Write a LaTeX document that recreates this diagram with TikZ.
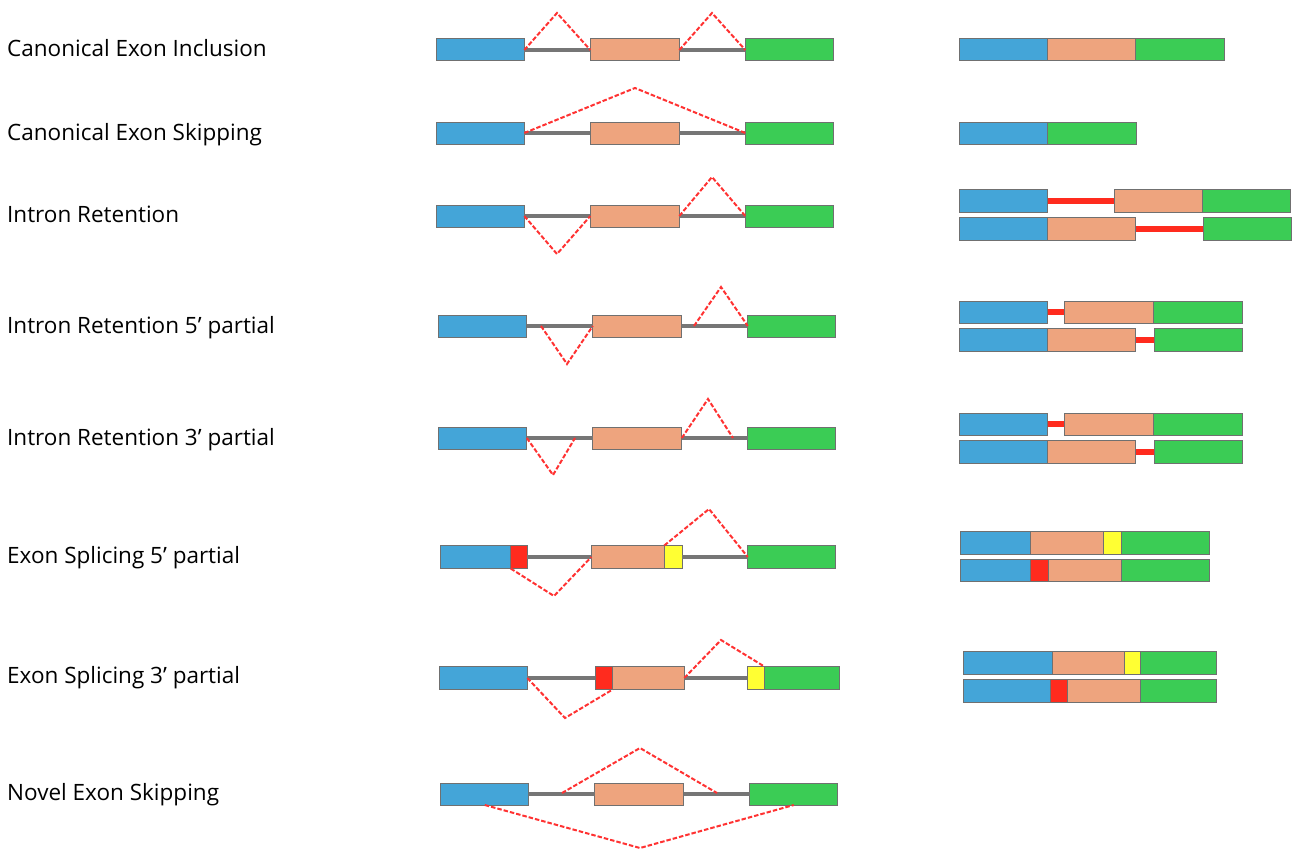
\documentclass[tikz,border=0pt]{standalone}
\usepackage{fontspec}
\setmainfont{Open Sans}
\usetikzlibrary{positioning}
\definecolor{exblue}{HTML}{44A5D8}
\definecolor{exorange}{HTML}{EEA47E}
\definecolor{exgreen}{HTML}{3BCC55}
\definecolor{exred}{HTML}{FF2B1E}
\definecolor{exyellow}{HTML}{FFFF33}
\definecolor{exline}{HTML}{707070}
\definecolor{intgray}{HTML}{767676}
\definecolor{spred}{HTML}{FF3232}

\begin{document}
\begin{tikzpicture}[x=1pt, y=-1pt,
    exon/.style = {draw=exline, line width=1pt, minimum width=88pt, minimum height=22pt, inner sep=0pt, outer sep=0pt},
    intron/.style = {draw=intgray, line width=4pt},
    splice/.style = {draw=spred, line width=2pt, dash pattern=on 4.5pt off 2pt},
    kept/.style = {draw=exred, line width=6pt},
    rowname/.style = {anchor=base west, inner sep=0pt, font=\fontsize{22.5}{27}\selectfont}]
\useasboundingbox (0,0) rectangle (1304,859);

% row names
\foreach \y/\t [count=\i] in {57/Canonical Exon Inclusion, 140/Canonical Exon Skipping, 222/Intron Retention,
    333/Intron Retention 5’ partial, 445/Intron Retention 3’ partial, 563/Exon Splicing 5’ partial,
    683/Exon Splicing 3’ partial, 800/Novel Exon Skipping}
  \node[rowname] (name\i) at (7,\y) {\t};

% pre-mRNA, three exons
\foreach \n/\y/\dx in {1/50/0, 2/133/0, 3/216/0, 4/326/2.5, 5/438/2.5, 8/794/4.5} {
  \node[exon, fill=exblue] (b\n) at (480.3+\dx,\y) {};
  \node[exon, fill=exorange, minimum width=89pt] (o\n) at (634.8+\dx,\y) {};
  \node[exon, fill=exgreen] (g\n) at (789.3+\dx,\y) {};
  \draw[intron] (b\n.east) -- (o\n.west);
  \draw[intron] (o\n.east) -- (g\n.west);
}

% exon splicing 5' partial
\node[exon, fill=exblue, minimum width=70.4pt, minimum height=23pt] (b6) at (475.5,557) {};
\node[exon, fill=exred, minimum width=16.6pt, minimum height=23pt, right=0pt of b6] (r6) {};
\node[exon, fill=exorange, minimum width=73pt, minimum height=23pt] (o6) at (627.8,557) {};
\node[exon, fill=exyellow, minimum width=18pt, minimum height=23pt, right=0pt of o6] (y6) {};
\node[exon, fill=exgreen, minimum height=23pt] (g6) at (791.8,557) {};
\draw[intron] (r6.east) -- (o6.west);
\draw[intron] (y6.east) -- (g6.west);

% exon splicing 3' partial
\node[exon, fill=exblue, minimum height=23pt] (b7) at (483.3,678) {};
\node[exon, fill=exred, minimum width=17.4pt, minimum height=23pt] (r7) at (604,678) {};
\node[exon, fill=exorange, minimum width=71.6pt, minimum height=23pt, right=0pt of r7] (o7) {};
\node[exon, fill=exyellow, minimum width=17pt, minimum height=23pt] (y7) at (755.8,678) {};
\node[exon, fill=exgreen, minimum width=75pt, minimum height=23pt, right=0pt of y7] (g7) {};
\draw[intron] (b7.east) -- (r7.west);
\draw[intron] (o7.east) -- (y7.west);

% splice junctions
\coordinate (p1a) at (557,13);
\coordinate (p1b) at (712,13);
\draw[splice] (b1.east) -- (p1a) -- (o1.west);
\draw[splice] (o1.east) -- (p1b) -- (g1.west);

\coordinate (p2) at (635,88);
\draw[splice] (b2.east) -- (p2) -- (g2.west);

\coordinate (p3a) at (557,254);
\coordinate (p3b) at (712,177);
\draw[splice] (b3.east) -- (p3a) -- (o3.west);
\draw[splice] (o3.east) -- (p3b) -- (g3.west);

\coordinate (s4a) at (541,326);
\coordinate (p4a) at (567,364);
\coordinate (s4b) at (694,326);
\coordinate (p4b) at (721,287);
\draw[splice] (s4a) -- (p4a) -- (o4.west);
\draw[splice] (s4b) -- (p4b) -- (g4.west);

\coordinate (p5a) at (553,475);
\coordinate (e5a) at (575,438);
\coordinate (p5b) at (708,399);
\coordinate (e5b) at (733,438);
\draw[splice] (b5.east) -- (p5a) -- (e5a);
\draw[splice] (o5.east) -- (p5b) -- (e5b);

\coordinate (p6a) at (554,596);
\coordinate (p6b) at (709,509);
\draw[splice] (r6.south west) -- (p6a) -- (o6.west);
\draw[splice] (y6.north west) -- (p6b) -- (g6.west);

\coordinate (p7a) at (565,718);
\coordinate (p7b) at (721,640);
\draw[splice] (b7.east) -- (p7a) -- (o7.south west);
\draw[splice] (o7.east) -- (p7b) -- (g7.north west);

\coordinate (s8a) at (562,793);
\coordinate (p8a) at (640,748);
\coordinate (s8b) at (717,793);
\coordinate (p8b) at (640,848);
\draw[splice] (s8a) -- (p8a) -- (s8b);
\draw[splice] (b8.south) -- (p8b) -- (g8.south);

% mature transcripts
\node[exon, fill=exblue] (rb1) at (1003.8,50) {};
\node[exon, fill=exorange, right=0pt of rb1] (ro1) {};
\node[exon, fill=exgreen, minimum width=89pt, right=0pt of ro1] (rg1) {};

\node[exon, fill=exblue] (rb2) at (1003.8,133) {};
\node[exon, fill=exgreen, minimum width=89pt, right=0pt of rb2] (rg2) {};

\node[exon, fill=exblue, minimum height=23pt] (rb3a) at (1003.8,200.8) {};
\node[exon, fill=exorange, minimum height=23pt] (ro3a) at (1158.2,200.8) {};
\node[exon, fill=exgreen, minimum height=23pt, right=0pt of ro3a] (rg3a) {};
\draw[kept] (rb3a.east) -- (ro3a.west);
\node[exon, fill=exblue, minimum height=23pt] (rb3b) at (1003.8,228.8) {};
\node[exon, fill=exorange, minimum height=23pt, right=0pt of rb3b] (ro3b) {};
\node[exon, fill=exgreen, minimum height=23pt] (rg3b) at (1247.2,228.8) {};
\draw[kept] (ro3b.east) -- (rg3b.west);

\foreach \n/\y in {4/312.3, 5/424.3} {
  \node[exon, fill=exblue] (rb\n a) at (1003.8,\y) {};
  \node[exon, fill=exorange, minimum width=89pt] (ro\n a) at (1108.8,\y) {};
  \node[exon, fill=exgreen, minimum width=89pt, right=0pt of ro\n a] (rg\n a) {};
  \draw[kept] (rb\n a.east) -- (ro\n a.west);
  \node[exon, fill=exblue, minimum height=23pt] (rb\n b) at (1003.8,\y+27.5) {};
  \node[exon, fill=exorange, minimum height=23pt, right=0pt of rb\n b] (ro\n b) {};
  \node[exon, fill=exgreen, minimum height=23pt] (rg\n b) at (1198.3,\y+27.5) {};
  \draw[kept] (ro\n b.east) -- (rg\n b.west);
}

\node[exon, fill=exblue, minimum width=70pt, minimum height=23pt] (rb6a) at (995.3,542.8) {};
\node[exon, fill=exorange, minimum width=73pt, minimum height=23pt, right=0pt of rb6a] (ro6a) {};
\node[exon, fill=exyellow, minimum width=18pt, minimum height=23pt, right=0pt of ro6a] (ry6a) {};
\node[exon, fill=exgreen, minimum height=23pt, right=0pt of ry6a] (rg6a) {};
\node[exon, fill=exblue, minimum width=70pt] (rb6b) at (995.3,570.3) {};
\node[exon, fill=exred, minimum width=18pt, right=0pt of rb6b] (rr6b) {};
\node[exon, fill=exorange, minimum width=73pt, right=0pt of rr6b] (ro6b) {};
\node[exon, fill=exgreen, right=0pt of ro6b] (rg6b) {};

\node[exon, fill=exblue, minimum width=89pt, minimum height=23pt] (rb7a) at (1007.8,662.8) {};
\node[exon, fill=exorange, minimum width=72pt, minimum height=23pt, right=0pt of rb7a] (ro7a) {};
\node[exon, fill=exyellow, minimum width=16pt, minimum height=23pt, right=0pt of ro7a] (ry7a) {};
\node[exon, fill=exgreen, minimum width=76pt, minimum height=23pt, right=0pt of ry7a] (rg7a) {};
\node[exon, fill=exblue, minimum width=87pt, minimum height=23pt] (rb7b) at (1006.8,690.8) {};
\node[exon, fill=exred, minimum width=17.4pt, minimum height=23pt, right=0pt of rb7b] (rr7b) {};
\node[exon, fill=exorange, minimum width=72.6pt, minimum height=23pt, right=0pt of rr7b] (ro7b) {};
\node[exon, fill=exgreen, minimum width=76pt, minimum height=23pt, right=0pt of ro7b] (rg7b) {};
\end{tikzpicture}
\end{document}
